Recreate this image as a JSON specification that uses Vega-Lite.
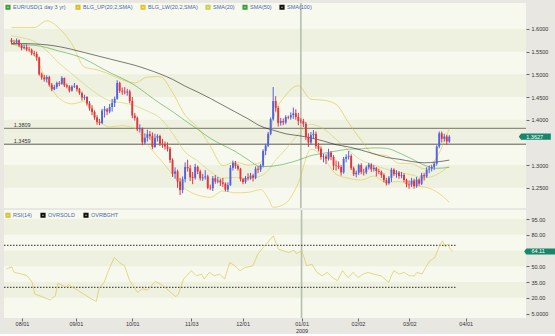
{
"$schema": "https://vega.github.io/schema/vega-lite/v6.json",
"background": "#e9e7e2",
"padding": {"left": 3, "top": 2, "right": 0, "bottom": 0},
"spacing": 2,
"bounds": "flush",
"config": {
  "font": "Liberation Sans",
  "view": {"stroke": null, "fill": "#f7f9ef"},
  "axis": {"domain": false, "grid": false, "labelFontSize": 5.5, "labelColor": "#333333", "tickColor": "#444444", "tickSize": 3, "tickWidth": 0.8, "labelPadding": 2, "labelOverlap": false, "labelSeparation": -100}
},
"datasets": {
"ohlc": [
{"t":-6,"o":1.576,"h":1.580,"l":1.566,"c":1.571},
{"t":-5,"o":1.571,"h":1.576,"l":1.566,"c":1.570},
{"t":-4,"o":1.570,"h":1.579,"l":1.568,"c":1.575},
{"t":-3,"o":1.575,"h":1.577,"l":1.560,"c":1.564},
{"t":-2,"o":1.564,"h":1.567,"l":1.553,"c":1.558},
{"t":-1,"o":1.558,"h":1.565,"l":1.555,"c":1.560},
{"t":0,"o":1.560,"h":1.566,"l":1.551,"c":1.555},
{"t":1,"o":1.555,"h":1.561,"l":1.550,"c":1.554},
{"t":2,"o":1.554,"h":1.557,"l":1.542,"c":1.547},
{"t":3,"o":1.547,"h":1.552,"l":1.540,"c":1.545},
{"t":4,"o":1.545,"h":1.550,"l":1.530,"c":1.537},
{"t":5,"o":1.537,"h":1.539,"l":1.497,"c":1.500},
{"t":6,"o":1.500,"h":1.504,"l":1.488,"c":1.493},
{"t":7,"o":1.493,"h":1.499,"l":1.484,"c":1.489},
{"t":8,"o":1.489,"h":1.498,"l":1.482,"c":1.494},
{"t":9,"o":1.494,"h":1.497,"l":1.473,"c":1.477},
{"t":10,"o":1.477,"h":1.481,"l":1.463,"c":1.467},
{"t":11,"o":1.467,"h":1.477,"l":1.465,"c":1.472},
{"t":12,"o":1.472,"h":1.484,"l":1.468,"c":1.481},
{"t":13,"o":1.481,"h":1.485,"l":1.474,"c":1.479},
{"t":14,"o":1.479,"h":1.496,"l":1.477,"c":1.492},
{"t":15,"o":1.492,"h":1.493,"l":1.472,"c":1.476},
{"t":16,"o":1.476,"h":1.480,"l":1.469,"c":1.473},
{"t":17,"o":1.473,"h":1.476,"l":1.460,"c":1.464},
{"t":18,"o":1.464,"h":1.476,"l":1.462,"c":1.473},
{"t":19,"o":1.473,"h":1.481,"l":1.470,"c":1.475},
{"t":20,"o":1.475,"h":1.477,"l":1.462,"c":1.467},
{"t":21,"o":1.467,"h":1.470,"l":1.455,"c":1.459},
{"t":22,"o":1.459,"h":1.462,"l":1.442,"c":1.449},
{"t":23,"o":1.448,"h":1.455,"l":1.443,"c":1.450},
{"t":24,"o":1.450,"h":1.452,"l":1.431,"c":1.436},
{"t":25,"o":1.436,"h":1.441,"l":1.420,"c":1.425},
{"t":26,"o":1.425,"h":1.432,"l":1.410,"c":1.417},
{"t":27,"o":1.417,"h":1.421,"l":1.400,"c":1.405},
{"t":28,"o":1.405,"h":1.410,"l":1.389,"c":1.395},
{"t":29,"o":1.395,"h":1.402,"l":1.388,"c":1.393},
{"t":30,"o":1.393,"h":1.424,"l":1.390,"c":1.420},
{"t":31,"o":1.420,"h":1.430,"l":1.405,"c":1.423},
{"t":32,"o":1.423,"h":1.426,"l":1.410,"c":1.418},
{"t":33,"o":1.418,"h":1.435,"l":1.414,"c":1.428},
{"t":34,"o":1.428,"h":1.446,"l":1.418,"c":1.437},
{"t":35,"o":1.437,"h":1.451,"l":1.428,"c":1.446},
{"t":36,"o":1.446,"h":1.487,"l":1.444,"c":1.481},
{"t":37,"o":1.481,"h":1.484,"l":1.459,"c":1.464},
{"t":38,"o":1.464,"h":1.471,"l":1.455,"c":1.462},
{"t":39,"o":1.462,"h":1.472,"l":1.456,"c":1.460},
{"t":40,"o":1.460,"h":1.468,"l":1.453,"c":1.462},
{"t":41,"o":1.462,"h":1.466,"l":1.436,"c":1.441},
{"t":42,"o":1.441,"h":1.450,"l":1.403,"c":1.409},
{"t":43,"o":1.409,"h":1.415,"l":1.398,"c":1.404},
{"t":44,"o":1.404,"h":1.407,"l":1.375,"c":1.379},
{"t":45,"o":1.379,"h":1.390,"l":1.372,"c":1.381},
{"t":46,"o":1.381,"h":1.383,"l":1.344,"c":1.350},
{"t":47,"o":1.350,"h":1.370,"l":1.346,"c":1.360},
{"t":48,"o":1.360,"h":1.378,"l":1.352,"c":1.368},
{"t":49,"o":1.368,"h":1.375,"l":1.356,"c":1.364},
{"t":50,"o":1.364,"h":1.372,"l":1.335,"c":1.340},
{"t":51,"o":1.340,"h":1.369,"l":1.338,"c":1.360},
{"t":52,"o":1.360,"h":1.368,"l":1.352,"c":1.364},
{"t":53,"o":1.364,"h":1.367,"l":1.342,"c":1.347},
{"t":54,"o":1.347,"h":1.358,"l":1.338,"c":1.346},
{"t":55,"o":1.346,"h":1.352,"l":1.334,"c":1.341},
{"t":56,"o":1.341,"h":1.350,"l":1.330,"c":1.336},
{"t":57,"o":1.336,"h":1.340,"l":1.305,"c":1.311},
{"t":58,"o":1.311,"h":1.315,"l":1.274,"c":1.281},
{"t":59,"o":1.281,"h":1.295,"l":1.270,"c":1.286},
{"t":60,"o":1.286,"h":1.290,"l":1.250,"c":1.264},
{"t":61,"o":1.264,"h":1.272,"l":1.234,"c":1.245},
{"t":62,"o":1.245,"h":1.275,"l":1.238,"c":1.269},
{"t":63,"o":1.269,"h":1.306,"l":1.262,"c":1.296},
{"t":64,"o":1.296,"h":1.312,"l":1.286,"c":1.293},
{"t":65,"o":1.293,"h":1.300,"l":1.265,"c":1.273},
{"t":66,"o":1.274,"h":1.285,"l":1.258,"c":1.272},
{"t":67,"o":1.272,"h":1.303,"l":1.268,"c":1.296},
{"t":68,"o":1.296,"h":1.299,"l":1.280,"c":1.286},
{"t":69,"o":1.286,"h":1.290,"l":1.266,"c":1.271},
{"t":70,"o":1.271,"h":1.281,"l":1.265,"c":1.273},
{"t":71,"o":1.273,"h":1.289,"l":1.268,"c":1.275},
{"t":72,"o":1.275,"h":1.279,"l":1.247,"c":1.250},
{"t":73,"o":1.250,"h":1.257,"l":1.245,"c":1.249},
{"t":74,"o":1.249,"h":1.276,"l":1.243,"c":1.271},
{"t":75,"o":1.271,"h":1.278,"l":1.259,"c":1.264},
{"t":76,"o":1.264,"h":1.274,"l":1.260,"c":1.266},
{"t":77,"o":1.266,"h":1.270,"l":1.254,"c":1.262},
{"t":78,"o":1.262,"h":1.272,"l":1.252,"c":1.259},
{"t":79,"o":1.259,"h":1.262,"l":1.242,"c":1.246},
{"t":80,"o":1.246,"h":1.262,"l":1.241,"c":1.256},
{"t":81,"o":1.256,"h":1.300,"l":1.254,"c":1.294},
{"t":82,"o":1.294,"h":1.310,"l":1.288,"c":1.305},
{"t":83,"o":1.305,"h":1.309,"l":1.292,"c":1.298},
{"t":84,"o":1.298,"h":1.302,"l":1.288,"c":1.292},
{"t":85,"o":1.292,"h":1.294,"l":1.264,"c":1.269},
{"t":86,"o":1.269,"h":1.272,"l":1.258,"c":1.263},
{"t":87,"o":1.263,"h":1.276,"l":1.259,"c":1.272},
{"t":88,"o":1.273,"h":1.282,"l":1.266,"c":1.271},
{"t":89,"o":1.271,"h":1.283,"l":1.268,"c":1.277},
{"t":90,"o":1.277,"h":1.281,"l":1.264,"c":1.272},
{"t":91,"o":1.272,"h":1.297,"l":1.269,"c":1.292},
{"t":92,"o":1.292,"h":1.298,"l":1.282,"c":1.290},
{"t":93,"o":1.290,"h":1.303,"l":1.285,"c":1.299},
{"t":94,"o":1.299,"h":1.335,"l":1.295,"c":1.331},
{"t":95,"o":1.331,"h":1.347,"l":1.322,"c":1.343},
{"t":96,"o":1.343,"h":1.373,"l":1.340,"c":1.369},
{"t":97,"o":1.369,"h":1.405,"l":1.366,"c":1.401},
{"t":98,"o":1.401,"h":1.472,"l":1.398,"c":1.441},
{"t":99,"o":1.441,"h":1.452,"l":1.418,"c":1.426},
{"t":100,"o":1.426,"h":1.430,"l":1.385,"c":1.393},
{"t":101,"o":1.393,"h":1.404,"l":1.387,"c":1.397},
{"t":102,"o":1.397,"h":1.403,"l":1.388,"c":1.394},
{"t":103,"o":1.394,"h":1.410,"l":1.390,"c":1.406},
{"t":104,"o":1.406,"h":1.409,"l":1.401,"c":1.405},
{"t":105,"o":1.405,"h":1.416,"l":1.400,"c":1.410},
{"t":106,"o":1.410,"h":1.427,"l":1.402,"c":1.414},
{"t":107,"o":1.414,"h":1.423,"l":1.400,"c":1.406},
{"t":108,"o":1.406,"h":1.415,"l":1.388,"c":1.397},
{"t":109,"o":1.398,"h":1.403,"l":1.392,"c":1.397},
{"t":110,"o":1.397,"h":1.402,"l":1.384,"c":1.391},
{"t":111,"o":1.391,"h":1.395,"l":1.355,"c":1.362},
{"t":112,"o":1.362,"h":1.370,"l":1.340,"c":1.350},
{"t":113,"o":1.350,"h":1.373,"l":1.345,"c":1.366},
{"t":114,"o":1.366,"h":1.377,"l":1.358,"c":1.369},
{"t":115,"o":1.369,"h":1.374,"l":1.336,"c":1.342},
{"t":116,"o":1.342,"h":1.349,"l":1.330,"c":1.336},
{"t":117,"o":1.336,"h":1.341,"l":1.312,"c":1.318},
{"t":118,"o":1.318,"h":1.325,"l":1.306,"c":1.319},
{"t":119,"o":1.319,"h":1.324,"l":1.302,"c":1.314},
{"t":120,"o":1.314,"h":1.336,"l":1.310,"c":1.327},
{"t":121,"o":1.327,"h":1.331,"l":1.311,"c":1.318},
{"t":122,"o":1.318,"h":1.322,"l":1.289,"c":1.299},
{"t":123,"o":1.299,"h":1.310,"l":1.288,"c":1.298},
{"t":124,"o":1.298,"h":1.308,"l":1.291,"c":1.296},
{"t":125,"o":1.296,"h":1.300,"l":1.277,"c":1.284},
{"t":126,"o":1.284,"h":1.318,"l":1.281,"c":1.314},
{"t":127,"o":1.314,"h":1.324,"l":1.306,"c":1.318},
{"t":128,"o":1.318,"h":1.331,"l":1.312,"c":1.320},
{"t":129,"o":1.320,"h":1.324,"l":1.289,"c":1.293},
{"t":130,"o":1.293,"h":1.297,"l":1.276,"c":1.280},
{"t":131,"o":1.280,"h":1.288,"l":1.273,"c":1.283},
{"t":132,"o":1.283,"h":1.303,"l":1.278,"c":1.300},
{"t":133,"o":1.300,"h":1.304,"l":1.280,"c":1.285},
{"t":134,"o":1.285,"h":1.292,"l":1.277,"c":1.284},
{"t":135,"o":1.284,"h":1.299,"l":1.280,"c":1.295},
{"t":136,"o":1.295,"h":1.305,"l":1.290,"c":1.301},
{"t":137,"o":1.301,"h":1.304,"l":1.285,"c":1.291},
{"t":138,"o":1.291,"h":1.300,"l":1.286,"c":1.294},
{"t":139,"o":1.294,"h":1.296,"l":1.275,"c":1.287},
{"t":140,"o":1.287,"h":1.292,"l":1.280,"c":1.285},
{"t":141,"o":1.285,"h":1.288,"l":1.272,"c":1.278},
{"t":142,"o":1.278,"h":1.282,"l":1.262,"c":1.267},
{"t":143,"o":1.267,"h":1.272,"l":1.255,"c":1.260},
{"t":144,"o":1.260,"h":1.276,"l":1.257,"c":1.272},
{"t":145,"o":1.272,"h":1.294,"l":1.263,"c":1.290},
{"t":146,"o":1.290,"h":1.293,"l":1.276,"c":1.280},
{"t":147,"o":1.280,"h":1.289,"l":1.272,"c":1.283},
{"t":148,"o":1.283,"h":1.287,"l":1.270,"c":1.276},
{"t":149,"o":1.276,"h":1.285,"l":1.271,"c":1.278},
{"t":150,"o":1.278,"h":1.282,"l":1.262,"c":1.267},
{"t":151,"o":1.267,"h":1.270,"l":1.251,"c":1.258},
{"t":152,"o":1.258,"h":1.266,"l":1.248,"c":1.257},
{"t":153,"o":1.257,"h":1.272,"l":1.252,"c":1.266},
{"t":154,"o":1.266,"h":1.270,"l":1.248,"c":1.254},
{"t":155,"o":1.254,"h":1.274,"l":1.250,"c":1.268},
{"t":156,"o":1.268,"h":1.271,"l":1.254,"c":1.259},
{"t":157,"o":1.259,"h":1.283,"l":1.256,"c":1.278},
{"t":158,"o":1.278,"h":1.283,"l":1.266,"c":1.275},
{"t":159,"o":1.275,"h":1.295,"l":1.272,"c":1.290},
{"t":160,"o":1.290,"h":1.299,"l":1.282,"c":1.292},
{"t":161,"o":1.292,"h":1.300,"l":1.286,"c":1.296},
{"t":162,"o":1.296,"h":1.307,"l":1.289,"c":1.303},
{"t":163,"o":1.303,"h":1.344,"l":1.299,"c":1.341},
{"t":164,"o":1.341,"h":1.374,"l":1.337,"c":1.370},
{"t":165,"o":1.370,"h":1.374,"l":1.350,"c":1.358},
{"t":166,"o":1.358,"h":1.369,"l":1.352,"c":1.363},
{"t":167,"o":1.363,"h":1.367,"l":1.345,"c":1.352},
{"t":168,"o":1.352,"h":1.366,"l":1.349,"c":1.3627}
],
"ind": [
{"t":-6,"m20":1.585,"up":1.603,"lo":1.567,"m50":1.566,"m100":1.568},
{"t":-2,"m20":1.581,"up":1.603,"lo":1.559,"m50":1.565,"m100":1.568},
{"t":3,"m20":1.5725,"up":1.603,"lo":1.542,"m50":1.564,"m100":1.567},
{"t":8,"m20":1.552,"up":1.618,"lo":1.486,"m50":1.559,"m100":1.565},
{"t":13,"m20":1.524,"up":1.601,"lo":1.447,"m50":1.551,"m100":1.561},
{"t":18,"m20":1.501,"up":1.567,"lo":1.435,"m50":1.544,"m100":1.555},
{"t":23,"m20":1.478,"up":1.516,"lo":1.440,"m50":1.534,"m100":1.548},
{"t":28,"m20":1.457,"up":1.510,"lo":1.403,"m50":1.519,"m100":1.541},
{"t":33,"m20":1.442,"up":1.500,"lo":1.384,"m50":1.504,"m100":1.534},
{"t":38,"m20":1.4375,"up":1.488,"lo":1.387,"m50":1.491,"m100":1.527},
{"t":43,"m20":1.431,"up":1.481,"lo":1.381,"m50":1.476,"m100":1.520},
{"t":48,"m20":1.419,"up":1.494,"lo":1.345,"m50":1.456,"m100":1.511},
{"t":53,"m20":1.404,"up":1.495,"lo":1.313,"m50":1.436,"m100":1.501},
{"t":58,"m20":1.370,"up":1.460,"lo":1.280,"m50":1.418,"m100":1.489},
{"t":63,"m20":1.329,"up":1.410,"lo":1.248,"m50":1.398,"m100":1.474},
{"t":68,"m20":1.309,"up":1.383,"lo":1.234,"m50":1.379,"m100":1.461},
{"t":73,"m20":1.286,"up":1.342,"lo":1.229,"m50":1.359,"m100":1.447},
{"t":78,"m20":1.271,"up":1.299,"lo":1.243,"m50":1.344,"m100":1.432},
{"t":83,"m20":1.273,"up":1.307,"lo":1.239,"m50":1.330,"m100":1.417},
{"t":88,"m20":1.270,"up":1.300,"lo":1.240,"m50":1.312,"m100":1.402},
{"t":93,"m20":1.276,"up":1.306,"lo":1.246,"m50":1.297,"m100":1.386},
{"t":96,"m20":1.288,"up":1.349,"lo":1.227,"m50":1.297,"m100":1.380},
{"t":98,"m20":1.304,"up":1.401,"lo":1.207,"m50":1.298,"m100":1.377},
{"t":103,"m20":1.335,"up":1.454,"lo":1.216,"m50":1.303,"m100":1.369},
{"t":108,"m20":1.368,"up":1.475,"lo":1.261,"m50":1.311,"m100":1.365},
{"t":113,"m20":1.390,"up":1.445,"lo":1.335,"m50":1.321,"m100":1.360},
{"t":118,"m20":1.380,"up":1.443,"lo":1.317,"m50":1.326,"m100":1.353},
{"t":123,"m20":1.357,"up":1.434,"lo":1.280,"m50":1.331,"m100":1.345},
{"t":128,"m20":1.332,"up":1.393,"lo":1.271,"m50":1.335,"m100":1.340},
{"t":133,"m20":1.311,"up":1.355,"lo":1.267,"m50":1.336,"m100":1.333},
{"t":138,"m20":1.300,"up":1.324,"lo":1.276,"m50":1.338,"m100":1.325},
{"t":143,"m20":1.291,"up":1.321,"lo":1.261,"m50":1.337,"m100":1.317},
{"t":148,"m20":1.284,"up":1.304,"lo":1.264,"m50":1.327,"m100":1.313},
{"t":153,"m20":1.2785,"up":1.303,"lo":1.254,"m50":1.314,"m100":1.308},
{"t":158,"m20":1.272,"up":1.292,"lo":1.252,"m50":1.300,"m100":1.305},
{"t":163,"m20":1.279,"up":1.317,"lo":1.241,"m50":1.293,"m100":1.307},
{"t":168,"m20":1.299,"up":1.381,"lo":1.218,"m50":1.295,"m100":1.311}
],
"rsi": [
{"t":-6,"v":47.4},{"t":-4,"v":49.5},{"t":-3,"v":44.2},{"t":0,"v":42.6},{"t":2,"v":41},{"t":4,"v":34.7},{"t":5,"v":23.7},{"t":9,"v":19.9},{"t":11,"v":18},{"t":13,"v":22},{"t":14,"v":33.7},{"t":16,"v":31.6},{"t":17,"v":30},{"t":18,"v":32.5},{"t":21,"v":28.4},{"t":24,"v":23.7},{"t":27,"v":19},{"t":29,"v":16.7},{"t":30,"v":28.4},{"t":32,"v":34.7},{"t":34,"v":47.4},{"t":36,"v":58.4},{"t":38,"v":53.6},{"t":40,"v":50.5},{"t":42,"v":36.3},{"t":45,"v":25.2},{"t":47,"v":28.4},{"t":49,"v":27.5},{"t":52,"v":35.6},{"t":55,"v":31.6},{"t":58,"v":25.2},{"t":60,"v":21.1},{"t":61,"v":23.7},{"t":63,"v":37.9},{"t":66,"v":45.8},{"t":68,"v":41},{"t":70,"v":42.6},{"t":71,"v":37.9},{"t":73,"v":44.2},{"t":75,"v":41},{"t":77,"v":42.6},{"t":79,"v":37.9},{"t":81,"v":53.6},{"t":83,"v":50.5},{"t":85,"v":45.8},{"t":87,"v":48.9},{"t":90,"v":50.5},{"t":92,"v":61.6},{"t":94,"v":67.8},{"t":98,"v":78.9},{"t":100,"v":66.3},{"t":102,"v":64.7},{"t":104,"v":63},{"t":106,"v":65.4},{"t":107,"v":62.1},{"t":109,"v":64.7},{"t":110,"v":58.4},{"t":111,"v":50.5},{"t":113,"v":52.1},{"t":115,"v":44.2},{"t":117,"v":41},{"t":119,"v":44.2},{"t":121,"v":39.4},{"t":123,"v":36.3},{"t":125,"v":45.8},{"t":127,"v":39.4},{"t":128,"v":41},{"t":129,"v":44.2},{"t":131,"v":39.4},{"t":133,"v":42.6},{"t":135,"v":44.2},{"t":137,"v":42.6},{"t":140,"v":41},{"t":143,"v":34.7},{"t":144,"v":41},{"t":145,"v":45.8},{"t":147,"v":42.6},{"t":149,"v":44.2},{"t":151,"v":41},{"t":153,"v":41},{"t":154,"v":44.2},{"t":156,"v":42.6},{"t":157,"v":47.4},{"t":159,"v":55.2},{"t":161,"v":58.4},{"t":163,"v":71},{"t":164,"v":74.2},{"t":165,"v":68.5},{"t":166,"v":71},{"t":167,"v":66.3},{"t":168,"v":64.11}
]
},
"resolve": {"scale": {"x": "independent", "y": "independent", "color": "independent"}, "legend": {"color": "independent"}},
"vconcat": [
{
"width": 522, "height": 205,
"layer": [
{"data": {"values": [{"a":1.25,"b":1.30},{"a":1.35,"b":1.40},{"a":1.45,"b":1.50},{"a":1.55,"b":1.60}]},
 "mark": {"type": "rect", "color": "#eef1e0"},
 "encoding": {
   "y": {"field": "a", "type": "quantitative", "title": null, "scale": {"domain": [1.2055, 1.6572], "nice": false, "zero": false},
         "axis": {"orient": "right", "values": [1.25, 1.3, 1.4, 1.45, 1.5, 1.55, 1.6], "format": ".4f", "title": null, "labelOverlap": false, "labelSeparation": -100}},
   "y2": {"field": "b"}}},
{"data": {"values": [{"t": 109}]},
 "mark": {"type": "rule", "color": "#b7beae", "strokeWidth": 1.6},
 "encoding": {"x": {"field": "t", "type": "quantitative", "title": null, "axis": null, "scale": {"domain": [-7, 196.5], "nice": false, "zero": false}}}},
{"data": {"values": [{"lv": 1.3809}, {"lv": 1.3459}]},
 "mark": {"type": "rule", "color": "#8e8c80", "strokeWidth": 1.4},
 "encoding": {"y": {"field": "lv", "type": "quantitative", "title": null, "axis": {"orient": "right", "values": [1.25, 1.3, 1.4, 1.45, 1.5, 1.55, 1.6], "format": ".4f", "title": null, "labelOverlap": false, "labelSeparation": -100}}}},
{"data": {"values": [{"lv": 1.3809}, {"lv": 1.3459}]},
 "mark": {"type": "text", "align": "left", "baseline": "bottom", "dy": -0.5, "fontSize": 5.5, "color": "#333333"},
 "encoding": {"x": {"datum": -5.1, "type": "quantitative", "axis": null, "title": null}, "y": {"field": "lv", "type": "quantitative", "title": null, "axis": {"orient": "right", "values": [1.25, 1.3, 1.4, 1.45, 1.5, 1.55, 1.6], "format": ".4f", "title": null, "labelOverlap": false, "labelSeparation": -100}}, "text": {"field": "lv", "format": ".4f"}}},
{"data": {"name": "ind"},
 "transform": [{"fold": ["up", "lo", "m20", "m50", "m100"], "as": ["s", "v"]}],
 "mark": {"type": "line", "interpolate": "monotone"},
 "encoding": {
   "x": {"field": "t", "type": "quantitative", "axis": null, "title": null},
   "y": {"field": "v", "type": "quantitative", "title": null, "axis": {"orient": "right", "values": [1.25, 1.3, 1.4, 1.45, 1.5, 1.55, 1.6], "format": ".4f", "title": null, "labelOverlap": false, "labelSeparation": -100}},
   "color": {"field": "s", "type": "nominal",
     "scale": {"domain": ["px", "up", "lo", "m20", "m50", "m100"], "range": ["#3f9f3f", "#dbbd2c", "#e2c52e", "#cfcd4a", "#3d9e3d", "#111111"]},
     "legend": {"orient": "none", "legendX": 1, "legendY": 1, "direction": "horizontal", "title": null, "symbolType": "square", "symbolSize": 10, "symbolStrokeWidth": 2, "labelFontSize": 5.5, "labelColor": "#4a68ad", "labelOffset": 2, "columnPadding": 4, "padding": 0,
       "labelExpr": "datum.label == 'px' ? 'EUR/USD(1 day  3 yr)' : datum.label == 'up' ? 'BLG_UP(20,2,SMA)' : datum.label == 'lo' ? 'BLG_LW(20,2,SMA)' : datum.label == 'm20' ? 'SMA(20)' : datum.label == 'm50' ? 'SMA(50)' : 'SMA(100)'"}},
   "strokeWidth": {"field": "s", "type": "nominal", "legend": null, "scale": {"domain": ["up", "lo", "m20", "m50", "m100"], "range": [1, 1, 1, 1, 1.5]}},
   "strokeOpacity": {"field": "s", "type": "nominal", "legend": null, "scale": {"domain": ["up", "lo", "m20", "m50", "m100"], "range": [0.55, 0.55, 0.5, 0.75, 0.68]}}}},
{"data": {"name": "ohlc"},
 "mark": {"type": "rule", "strokeWidth": 1},
 "encoding": {
   "x": {"field": "t", "type": "quantitative", "axis": null, "title": null},
   "y": {"field": "l", "type": "quantitative", "title": null, "axis": {"orient": "right", "values": [1.25, 1.3, 1.4, 1.45, 1.5, 1.55, 1.6], "format": ".4f", "title": null, "labelOverlap": false, "labelSeparation": -100}},
   "y2": {"field": "h"},
   "color": {"condition": {"test": "datum.c >= datum.o", "value": "#5063e0"}, "value": "#e3353c"}}},
{"data": {"name": "ohlc"},
 "mark": {"type": "bar", "width": 1.9},
 "encoding": {
   "x": {"field": "t", "type": "quantitative", "axis": null, "title": null},
   "y": {"field": "o", "type": "quantitative", "title": null, "axis": {"orient": "right", "values": [1.25, 1.3, 1.4, 1.45, 1.5, 1.55, 1.6], "format": ".4f", "title": null, "labelOverlap": false, "labelSeparation": -100}},
   "y2": {"field": "c"},
   "color": {"condition": {"test": "datum.c >= datum.o", "value": "#5063e0"}, "value": "#e3353c"}}},
{"data": {"values": [{"v": 1.3627}]},
 "mark": {"type": "point", "shape": "M-1,0L-0.86,-0.19L1,-0.19L1,0.19L-0.86,0.19Z", "size": 1024, "filled": true, "color": "#17866a", "opacity": 1, "strokeWidth": 0},
 "encoding": {"x": {"datum": 202, "type": "quantitative", "axis": null, "title": null}, "y": {"field": "v", "type": "quantitative", "title": null, "axis": {"orient": "right", "values": [1.25, 1.3, 1.4, 1.45, 1.5, 1.55, 1.6], "format": ".4f", "title": null, "labelOverlap": false, "labelSeparation": -100}}}},
{"data": {"values": [{"v": 1.3627}]},
 "mark": {"type": "text", "align": "left", "baseline": "middle", "fontSize": 5.5, "color": "#ffffff"},
 "encoding": {"x": {"datum": 198.6, "type": "quantitative", "axis": null, "title": null}, "y": {"field": "v", "type": "quantitative", "title": null, "axis": {"orient": "right", "values": [1.25, 1.3, 1.4, 1.45, 1.5, 1.55, 1.6], "format": ".4f", "title": null, "labelOverlap": false, "labelSeparation": -100}}, "text": {"field": "v", "format": ".4f"}}}
]
},
{
"width": 522, "height": 108,
"layer": [
{"data": {"values": [{"a":20,"b":35},{"a":50,"b":65},{"a":80,"b":95}]},
 "mark": {"type": "rect", "color": "#eef1e0"},
 "encoding": {
   "y": {"field": "a", "type": "quantitative", "title": null, "scale": {"domain": [0.8, 103.6], "nice": false, "zero": false},
         "axis": {"orient": "right", "values": [5, 20, 35, 50, 80, 95], "labelOverlap": false, "labelSeparation": -100, "labelExpr": "datum.value == 5 ? '5.0000' : format(datum.value, '.2f')", "title": null}},
   "y2": {"field": "b"}}},
{"data": {"values": [{"t": 109}]},
 "mark": {"type": "rule", "color": "#b7beae", "strokeWidth": 1.6},
 "encoding": {"x": {"field": "t", "type": "quantitative", "title": null, "scale": {"domain": [-7, 196.5], "nice": false, "zero": false},
   "axis": {"values": [0, 21, 43, 66, 86, 109, 131, 151, 173], "labelPadding": 0, "labelLineHeight": 7.5, "labelFlush": false, "labelOverlap": false, "title": null,
     "labelExpr": "datum.value == 0 ? '08/01' : datum.value == 21 ? '09/01' : datum.value == 43 ? '10/01' : datum.value == 66 ? '11/03' : datum.value == 86 ? '12/01' : datum.value == 109 ? ['01/01', '2009'] : datum.value == 131 ? '02/02' : datum.value == 151 ? '03/02' : '04/01'"}}}},
{"data": {"values": [{"s": "OVRSOLD", "lv": 30, "t0": -7, "t1": 169}, {"s": "OVRBGHT", "lv": 70, "t0": -7, "t1": 169}]},
 "mark": {"type": "rule", "strokeDash": [1.5, 1.5], "strokeWidth": 0.9},
 "encoding": {
   "x": {"field": "t0", "type": "quantitative", "title": null},
   "x2": {"field": "t1"},
   "y": {"field": "lv", "type": "quantitative", "title": null, "axis": {"orient": "right", "values": [5, 20, 35, 50, 80, 95], "labelOverlap": false, "labelSeparation": -100, "labelExpr": "datum.value == 5 ? '5.0000' : format(datum.value, '.2f')", "title": null}},
   "color": {"field": "s", "type": "nominal",
     "scale": {"domain": ["RSI(14)", "OVRSOLD", "OVRBGHT"], "range": ["#d8c23a", "#111111", "#111111"]},
     "legend": {"orient": "none", "legendX": 1, "legendY": 2, "direction": "horizontal", "title": null, "symbolType": "square", "symbolSize": 10, "symbolStrokeWidth": 2, "symbolDash": [], "labelFontSize": 5.5, "labelColor": "#4a68ad", "labelOffset": 2, "columnPadding": 5, "padding": 0}}}},
{"data": {"name": "rsi"},
 "mark": {"type": "line", "strokeWidth": 1, "strokeOpacity": 0.6},
 "encoding": {
   "x": {"field": "t", "type": "quantitative", "title": null},
   "y": {"field": "v", "type": "quantitative", "title": null, "axis": {"orient": "right", "values": [5, 20, 35, 50, 80, 95], "labelOverlap": false, "labelSeparation": -100, "labelExpr": "datum.value == 5 ? '5.0000' : format(datum.value, '.2f')", "title": null}},
   "color": {"datum": "RSI(14)"}}},
{"data": {"values": [{"v": 64.11}]},
 "mark": {"type": "point", "shape": "M-1,0L-0.86,-0.19L1,-0.19L1,0.19L-0.86,0.19Z", "size": 1024, "filled": true, "color": "#17866a", "opacity": 1, "strokeWidth": 0},
 "encoding": {"x": {"datum": 202, "type": "quantitative", "title": null}, "y": {"field": "v", "type": "quantitative", "title": null, "axis": {"orient": "right", "values": [5, 20, 35, 50, 80, 95], "labelOverlap": false, "labelSeparation": -100, "labelExpr": "datum.value == 5 ? '5.0000' : format(datum.value, '.2f')", "title": null}}}},
{"data": {"values": [{"v": 64.11}]},
 "mark": {"type": "text", "align": "left", "baseline": "middle", "fontSize": 5.5, "color": "#ffffff"},
 "encoding": {"x": {"datum": 198.6, "type": "quantitative", "title": null}, "y": {"field": "v", "type": "quantitative", "title": null, "axis": {"orient": "right", "values": [5, 20, 35, 50, 80, 95], "labelOverlap": false, "labelSeparation": -100, "labelExpr": "datum.value == 5 ? '5.0000' : format(datum.value, '.2f')", "title": null}}, "text": {"field": "v", "format": ".2f"}}}
]
}
]
}
